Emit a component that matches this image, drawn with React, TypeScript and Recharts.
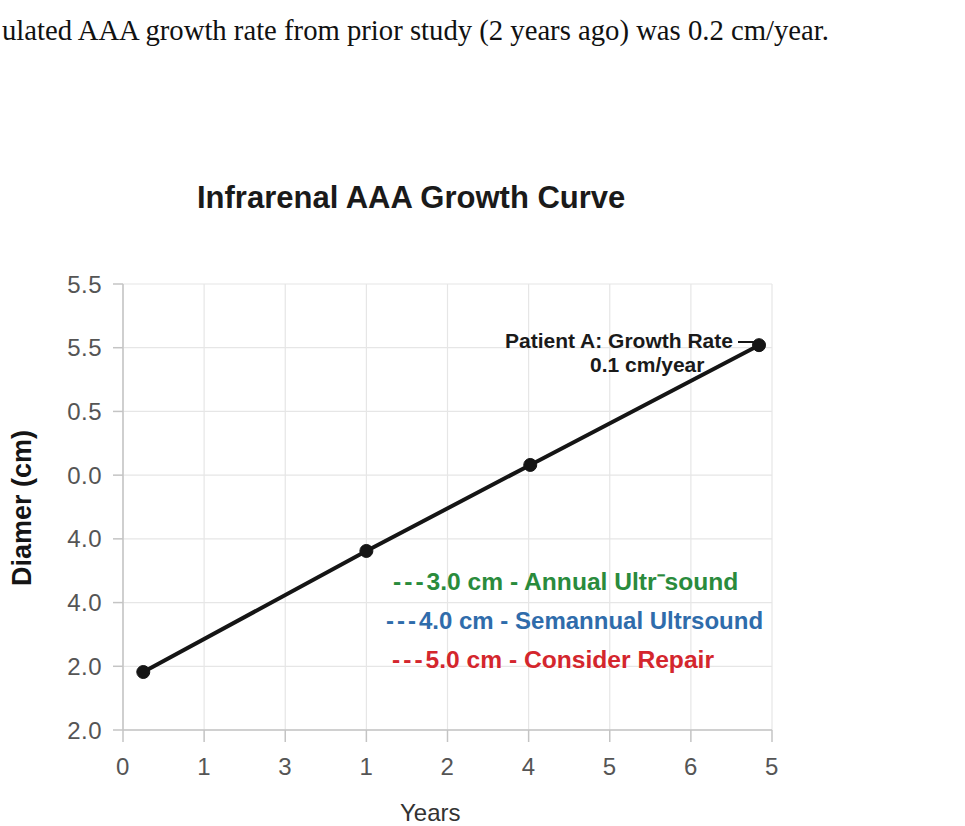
import { CartesianGrid, Line, LineChart, XAxis, YAxis } from "recharts";

// patient A measurements (x in axis slots, y in grid rows)
const years = [0.25, 3.0, 5.02, 7.84];
const diameters = [0.91, 2.81, 4.16, 6.04];

const xTickLabels = ["0", "1", "3", "1", "2", "4", "5", "6", "5"];
const yTickLabels = ["2.0", "2.0", "4.0", "4.0", "0.0", "0.5", "5.5", "5.5"];

const thresholdNotes = [
  { text: "3.0 cm - Annual Ultr\u207Bsound", color: "#2a8b3c" },
  { text: "4.0 cm - Semannual Ultrsound", color: "#2f6cab" },
  { text: "5.0 cm - Consider Repair", color: "#d4262d" },
];

const chartData = years.map((year, i) => ({ year, diameter: diameters[i] }));

const FONT = '"Liberation Sans", Arial, Helvetica, sans-serif';

function Text({
  left,
  cy,
  size,
  color = "#1a1a1a",
  weight = 400,
  family = FONT,
  children,
}: {
  left: number;
  cy: number;
  size: number;
  color?: string;
  weight?: number;
  family?: string;
  children: React.ReactNode;
}) {
  return (
    <div
      style={{
        position: "absolute",
        left,
        top: cy,
        transform: "translateY(-50%)",
        fontFamily: family,
        fontSize: size,
        fontWeight: weight,
        color,
        lineHeight: 1,
        whiteSpace: "nowrap",
      }}
    >
      {children}
    </div>
  );
}

export default function App() {
  const tickStyle = { fill: "#555", fontSize: 24, fontFamily: FONT, letterSpacing: 0.5 };
  return (
    <div
      style={{
        position: "absolute",
        left: 0,
        top: 0,
        width: 965,
        height: 826,
        background: "#fff",
        overflow: "hidden",
      }}
    >
      <Text left={2} cy={30} size={28.7} color="#111" family='"Liberation Serif", "Times New Roman", serif'>
        ulated AAA growth rate from prior study (2 years ago) was 0.2 cm/year.
      </Text>

      <Text left={197} cy={197} size={31} weight={700}>
        Infrarenal AAA Growth Curve
      </Text>

      <LineChart
        width={965}
        height={826}
        data={chartData}
        margin={{ top: 284, right: 193, bottom: 0, left: 0 }}
        style={{ position: "absolute", left: 0, top: 0 }}
      >
        <CartesianGrid stroke="#e6e6e6" strokeWidth={1.2} />
        <XAxis
          type="number"
          dataKey="year"
          domain={[0, xTickLabels.length - 1]}
          ticks={xTickLabels.map((_, i) => i)}
          tickFormatter={(v: number) => xTickLabels[v]}
          interval={0}
          height={96}
          stroke="#c4c4c4"
          strokeWidth={1.5}
          tickSize={12}
          tickMargin={16}
          tick={tickStyle}
        />
        <YAxis
          type="number"
          dataKey="diameter"
          domain={[0, yTickLabels.length - 1]}
          ticks={yTickLabels.map((_, i) => i)}
          tickFormatter={(v: number) => yTickLabels[v]}
          interval={0}
          width={123}
          stroke="#c4c4c4"
          strokeWidth={1.5}
          tickSize={10}
          tickMargin={11}
          tick={tickStyle}
        />
        <Line
          type="linear"
          dataKey="diameter"
          stroke="#151515"
          strokeWidth={4}
          dot={{ r: 6.5, fill: "#151515", stroke: "#151515", strokeWidth: 1 }}
          isAnimationActive={false}
        />
      </LineChart>

      <div
        style={{
          position: "absolute",
          left: 22,
          top: 508,
          transform: "translate(-50%, -50%) rotate(-90deg)",
          fontFamily: FONT,
          fontSize: 27,
          fontWeight: 700,
          color: "#151515",
          whiteSpace: "nowrap",
          lineHeight: 1,
        }}
      >
        Diamer (cm)
      </div>

      <Text left={400} cy={813} size={24} color="#333">
        Years
      </Text>

      <Text left={505} cy={340} size={21} weight={700}>
        Patient A: Growth Rate
      </Text>
      <div
        style={{
          position: "absolute",
          left: 738,
          top: 341,
          width: 16,
          height: 2,
          background: "#151515",
        }}
      />
      <Text left={590} cy={364} size={21} weight={700}>
        0.1 cm/year
      </Text>

      {thresholdNotes.map((note, i) => (
        <Text
          key={note.text}
          left={[393, 386, 392][i]}
          cy={582 + i * 39}
          size={[24.6, 24, 24.6][i]}
          weight={700}
          color={note.color}
        >
          <span style={{ letterSpacing: 3 }}>---</span>
          {note.text}
        </Text>
      ))}
    </div>
  );
}
